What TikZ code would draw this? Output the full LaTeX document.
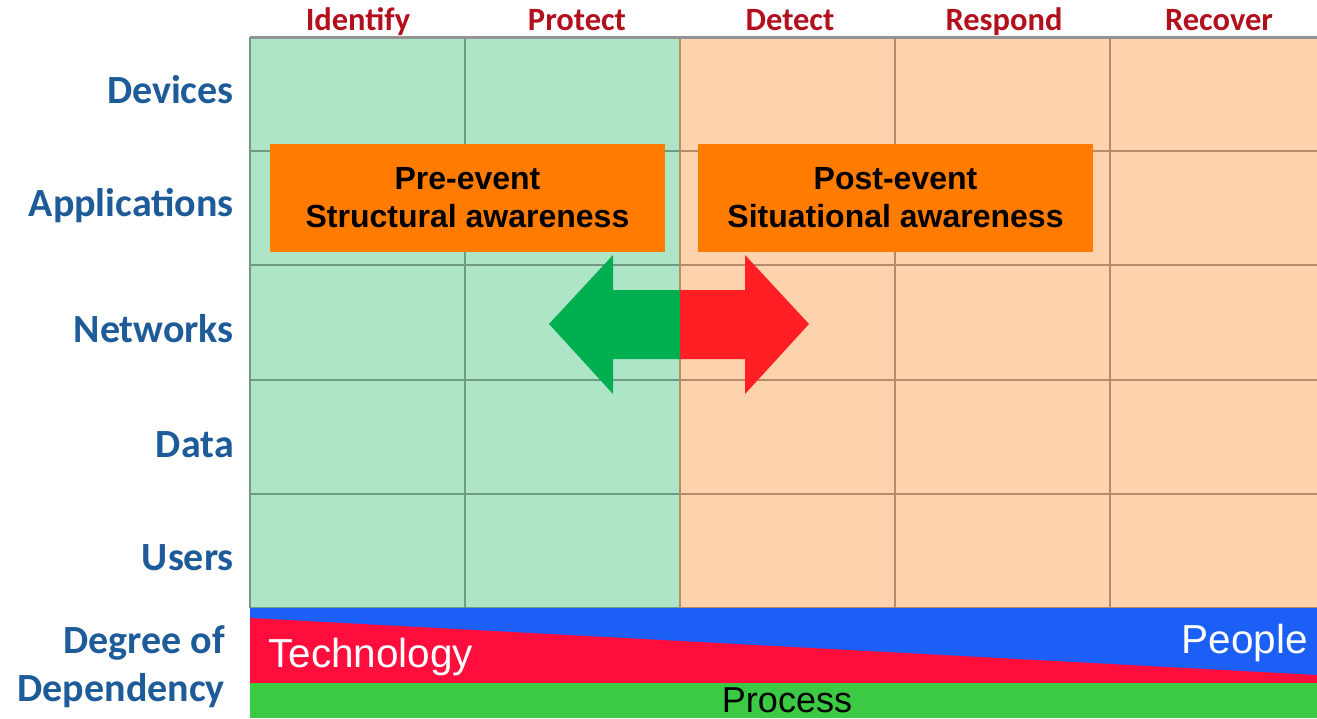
\documentclass[tikz,border=0pt]{standalone}
\usepackage{fontspec}
\newfontfamily\carlito{Carlito}
\newfontfamily\arial{Liberation Sans}

\definecolor{cellgreen}{HTML}{AFE5C7}
\definecolor{cellorange}{HTML}{FDD3AD}
\definecolor{gridgreen}{HTML}{6F9C81}
\definecolor{gridbrown}{HTML}{B88B68}
\definecolor{rowblue}{HTML}{1D5B99}
\definecolor{headred}{HTML}{B3101E}
\definecolor{boxorange}{HTML}{FF7C00}
\definecolor{arrowgreen}{HTML}{00B050}
\definecolor{arrowred}{HTML}{FF1F24}
\definecolor{bandblue}{HTML}{1C5FF6}
\definecolor{bandred}{HTML}{FF0E3D}
\definecolor{bandgreen}{HTML}{3CC943}

\tikzset{
  rowlabel/.style={anchor=base east, inner sep=0pt, text=rowblue,
    font=\carlito\bfseries\fontsize{40}{48}\selectfont},
  colhead/.style={anchor=base, inner sep=0pt, text=headred,
    font=\carlito\bfseries\fontsize{32.5}{39}\selectfont},
  eventbox/.style={fill=boxorange, align=center, inner sep=0pt,
    minimum width=395pt, minimum height=108pt,
    font=\arial\bfseries\fontsize{32}{38}\selectfont},
  bandtext/.style={inner sep=0pt, font=\arial\fontsize{40.5}{48}\selectfont},
}

\begin{document}
\begin{tikzpicture}[x=1pt, y=-1pt]
  \useasboundingbox (0,0) rectangle (1317,718);

  % Cell backgrounds
  \fill[cellgreen] (250,37) rectangle (680,608);
  \fill[cellorange] (680,37) rectangle (1317,608);

  % Grid lines
  \foreach \y in {151,265,380,494,608} {
    \draw[gridgreen, line width=2.5pt] (250,\y) -- (680,\y);
    \draw[gridbrown, line width=2.5pt] (680,\y) -- (1317,\y);
  }
  \foreach \x in {250,465}
    \draw[gridgreen, line width=2.5pt] (\x,37) -- (\x,608);
  \foreach \x in {680,895,1110}
    \draw[gridbrown, line width=2.5pt] (\x,37) -- (\x,608);
  \draw[gray!85, line width=3pt] (250,37) -- (1317,37);

  % Column headers
  \node[colhead] (identify) at (358,30) {Identify};
  \node[colhead] (protect) at (577,30) {Protect};
  \node[colhead] (detect) at (790,30) {Detect};
  \node[colhead] (respond) at (1004,30) {Respond};
  \node[colhead] (recover) at (1219,30) {Recover};

  % Row labels
  \node[rowlabel] (devices) at (234,103) {Devices};
  \node[rowlabel] (applications) at (234,216) {Applications};
  \node[rowlabel] (networks) at (234,342) {Networks};
  \node[rowlabel] (data) at (234,457) {Data};
  \node[rowlabel] (users) at (234,570) {Users};
  \node[rowlabel] (degree) at (225,653) {Degree of};
  \node[rowlabel] (dependency) at (225,701) {Dependency};

  % Awareness boxes
  \node[eventbox] (preevent) at (467.5,198) {Pre-event\\Structural awareness};
  \node[eventbox] (postevent) at (895.5,198) {Post-event\\Situational awareness};

  % Double arrow across the event line
  \fill[arrowgreen] (680,290) -- (613,290) -- (613,255) -- (549,324)
    -- (613,394) -- (613,359) -- (680,359) -- cycle;
  \fill[arrowred] (680,290) -- (745,290) -- (745,255) -- (809,324)
    -- (745,394) -- (745,359) -- (680,359) -- cycle;

  % Degree of dependency bands
  \fill[bandblue] (250,608) rectangle (1317,683);
  \fill[bandred] (250,618) -- (1317,675) -- (1317,683) -- (250,683) -- cycle;
  \fill[bandgreen] (250,683) rectangle (1317,718);

  \node[bandtext, anchor=base west, text=white] (technology) at (268,667) {Technology};
  \node[bandtext, anchor=base east, text=white] (people) at (1308,653) {People};
  \node[bandtext, anchor=base, font=\arial\fontsize{36}{43}\selectfont] (process) at (787,712) {Process};
\end{tikzpicture}
\end{document}
